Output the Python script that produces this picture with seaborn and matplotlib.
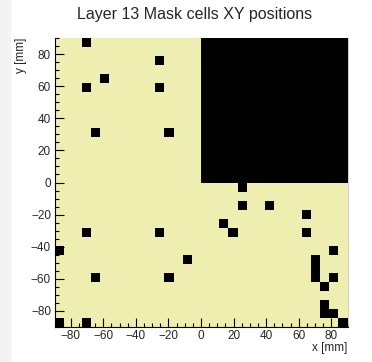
import numpy as np
import matplotlib
matplotlib.use("Agg")
import matplotlib.pyplot as plt
from matplotlib.colors import ListedColormap
from matplotlib.patches import Rectangle
from matplotlib.ticker import MultipleLocator
import seaborn as sns

# Binning of the layer (mm)
lo, hi, nbins = -90, 90, 32

# Masked single cells, centre positions [mm]
cell_x = [-70.3, -25.3, -59.1, -70.3, -25.3, -64.7, -19.7, -70.3, -25.3, -87.2,
          -8.4, -64.7, -19.7, -87.2, -70.3, 25.3, 25.3, 42.2, 64.7, 14.1,
          19.7, 64.7, 81.6, 70.3, 70.3, 70.3, 81.6, 75.9, 75.9, 75.9,
          81.6, 87.2]
cell_y = [87.2, 75.9, 64.7, 59.1, 59.1, 30.9, 30.9, -30.9, -30.9, -42.2,
          -47.8, -59.1, -59.1, -87.2, -87.2, -2.8, -14.1, -14.1, -19.7, -25.3,
          -30.9, -30.9, -42.2, -47.8, -53.4, -59.1, -59.1, -64.7, -75.9, -81.6,
          -81.6, -87.2]

# Fully masked block (x range, y range) [mm]
block_x = (0, 90)
block_y = (0, 90)

# cell centres inside the masked block
edges = np.linspace(lo, hi, nbins + 1)
centres = (edges[:-1] + edges[1:]) / 2
bx = centres[(centres > block_x[0]) & (centres < block_x[1])]
by = centres[(centres > block_y[0]) & (centres < block_y[1])]
gx, gy = np.meshgrid(bx, by)

all_x = np.concatenate([cell_x, gx.ravel()])
all_y = np.concatenate([cell_y, gy.ravel()])

sns.set_style("ticks")
plt.rcParams["font.family"] = ["Liberation Sans", "DejaVu Sans"]

W, H = 372, 362
fig = plt.figure(figsize=(W / 100, H / 100), dpi=100)
fig.patches.append(Rectangle((0, 0), 10 / W, 1, transform=fig.transFigure,
                             color="#f3f3f3", zorder=-1))
ax = fig.add_axes([54.5 / W, 1 - 327 / H, 293 / W, 289 / H])
ax.set_facecolor("#eeeeb0")

sns.histplot(x=all_x, y=all_y, bins=nbins, binrange=((lo, hi), (lo, hi)),
             cmap=ListedColormap(["black"]), ax=ax)

ax.set_xlim(lo, hi)
ax.set_ylim(lo, hi)
ax.xaxis.set_major_locator(MultipleLocator(20))
ax.yaxis.set_major_locator(MultipleLocator(20))
ax.xaxis.set_minor_locator(MultipleLocator(5))
ax.yaxis.set_minor_locator(MultipleLocator(5))
ax.tick_params(which="major", direction="in", length=6.5, width=0.8,
               labelsize=8.5, pad=2.5, color="black")
ax.tick_params(which="minor", direction="in", length=3.2, width=0.8, color="black")
ax.tick_params(top=False, right=False, which="both")

for s in ["left", "bottom"]:
    ax.spines[s].set_color("black")
    ax.spines[s].set_linewidth(0.8)
ax.spines["top"].set_visible(False)
ax.spines["right"].set_color("#c8c8c8")
ax.spines["right"].set_linewidth(0.6)

ax.set_xlabel("x [mm]", loc="right", fontsize=8.5, labelpad=0)
ax.set_ylabel("y [mm]", loc="top", fontsize=8.5, labelpad=3)
fig.text(195 / W, 1 - 15 / H, "Layer 13 Mask cells XY positions",
         ha="center", va="center", fontsize=11.5)

fig.savefig("out.png", dpi=100)
